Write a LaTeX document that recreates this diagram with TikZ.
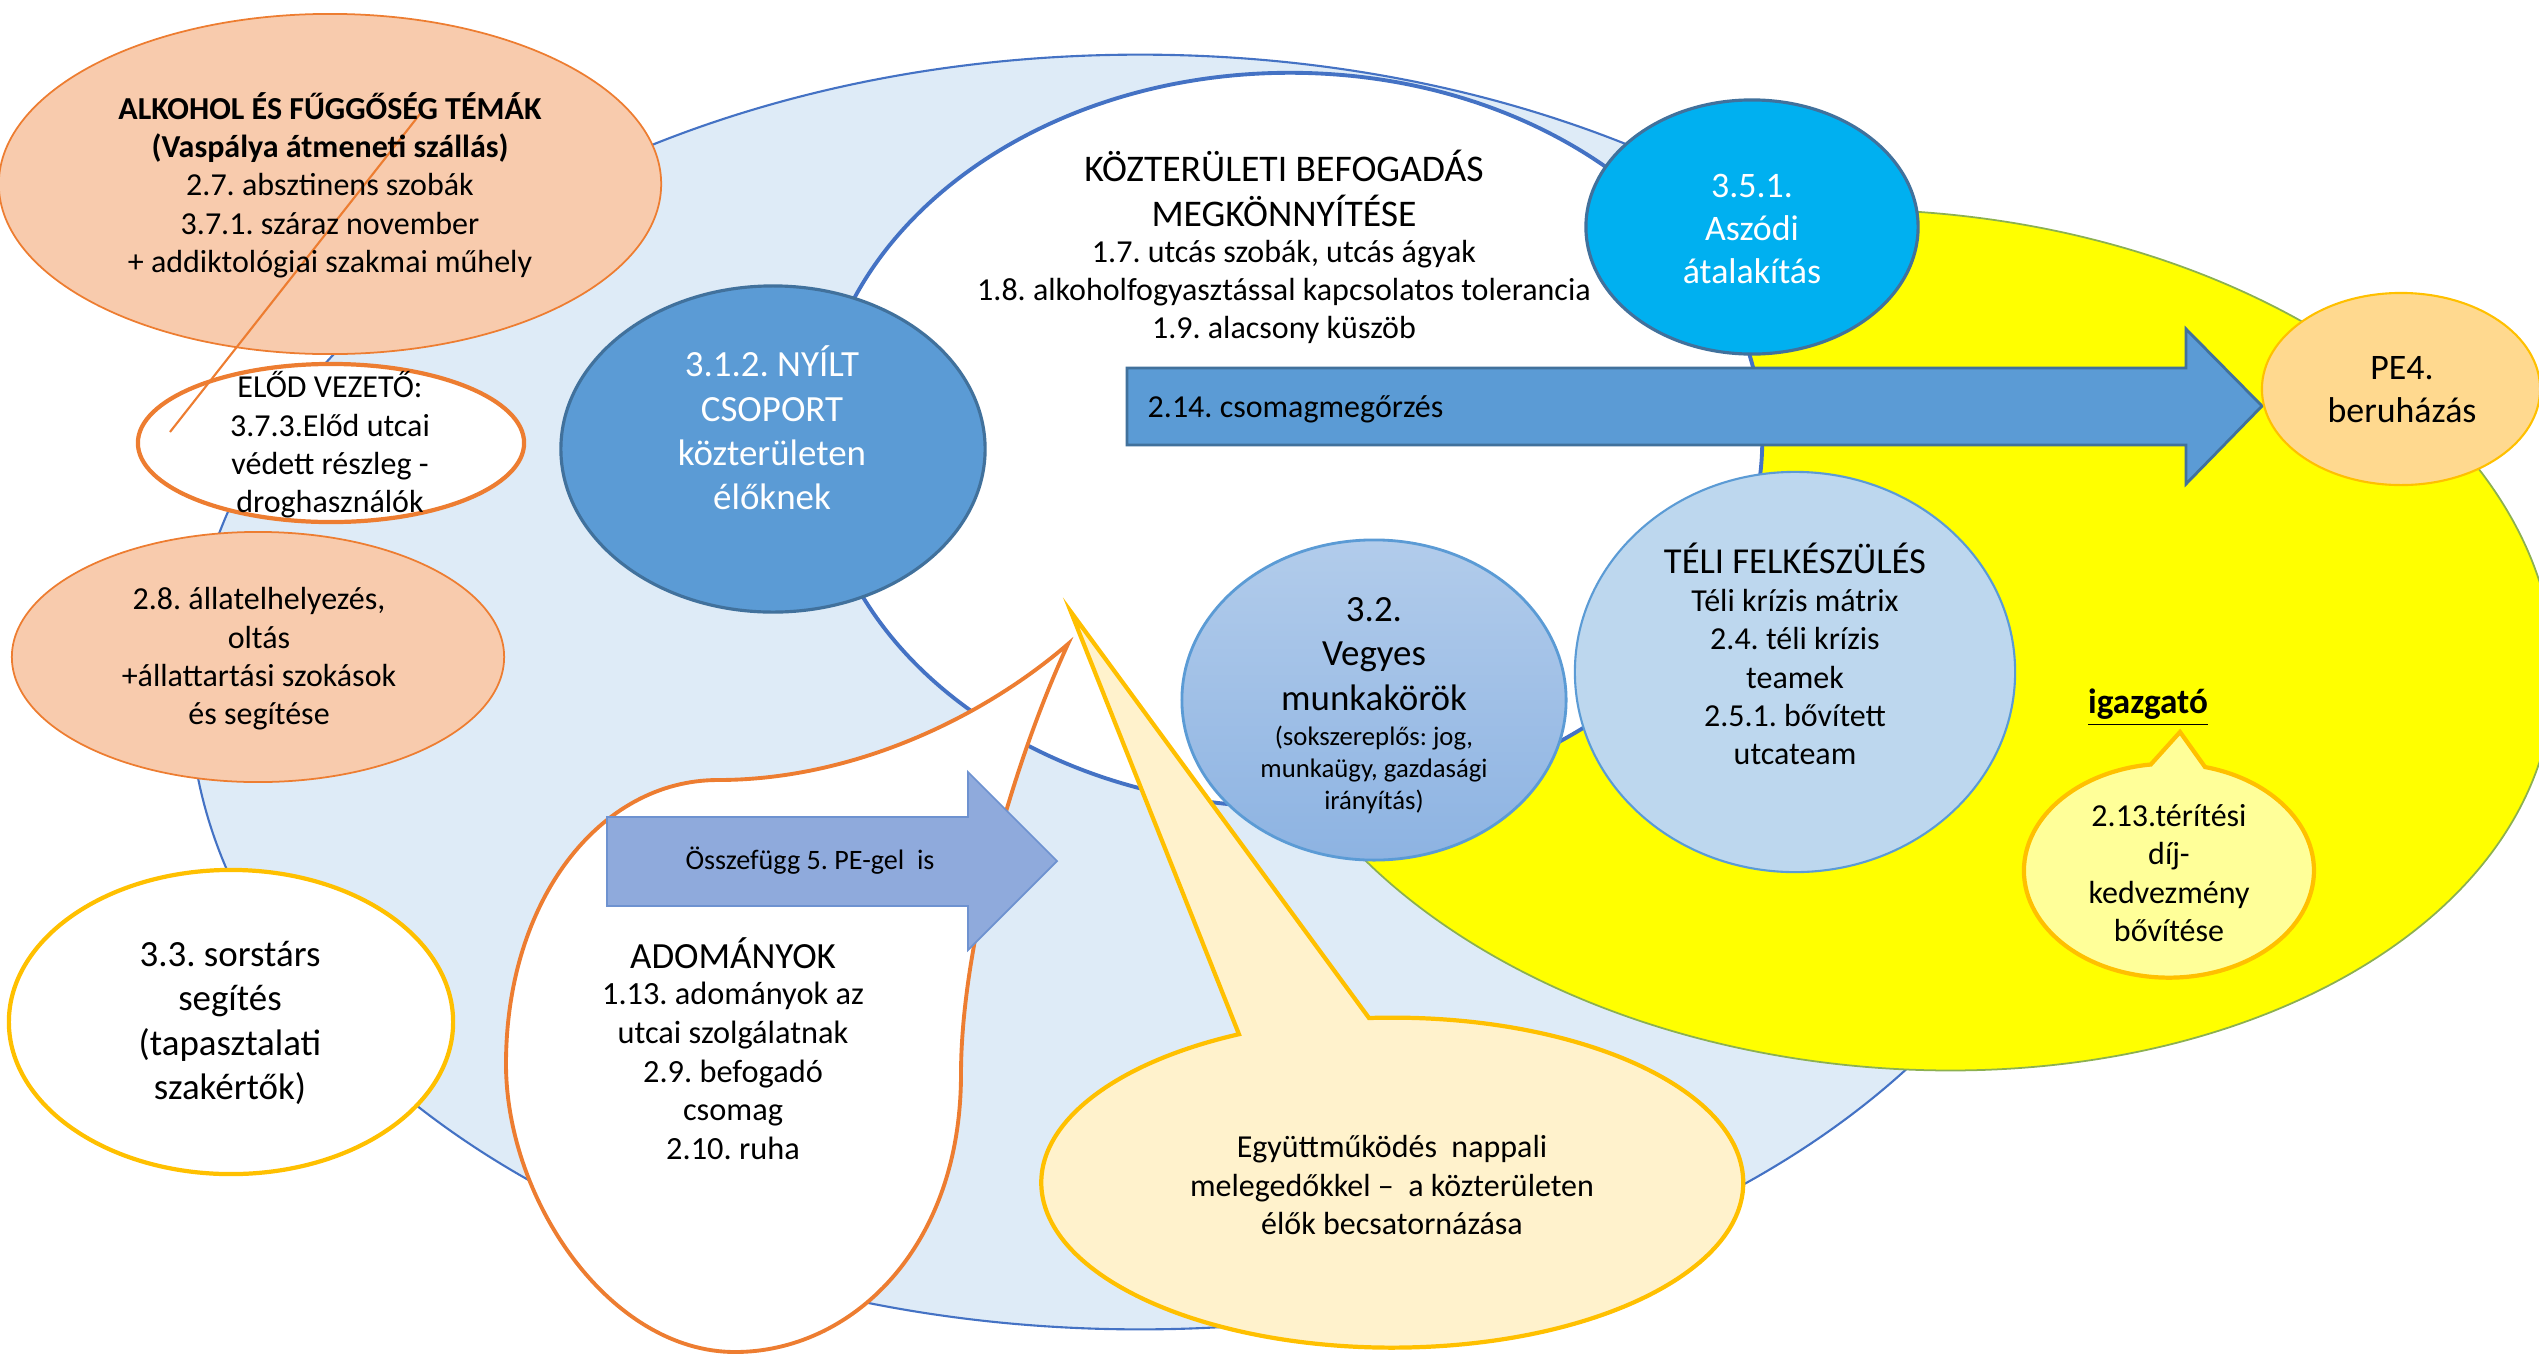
\documentclass[tikz,border=0pt]{standalone}
\usepackage{fontspec}
\setmainfont{Carlito}
\usetikzlibrary{shapes.geometric}
\frenchspacing
\definecolor{lblue}{HTML}{DEEBF7}
\definecolor{bline}{HTML}{4472C4}
\definecolor{mblue}{HTML}{5B9BD5}
\definecolor{dblue}{HTML}{41719C}
\definecolor{cyanb}{HTML}{00B0F0}
\definecolor{yel}{HTML}{FFFF00}
\definecolor{ygreen}{HTML}{8CB050}
\definecolor{peach}{HTML}{F8CBAD}
\definecolor{orng}{HTML}{ED7D31}
\definecolor{gold}{HTML}{FFC000}
\definecolor{pale}{HTML}{BDD7EE}
\definecolor{lyel}{HTML}{FFFF99}
\definecolor{cream}{HTML}{FFF2CC}
\definecolor{peo}{HTML}{FFD98F}
\definecolor{arrb}{HTML}{8FAADC}
\definecolor{arrbd}{HTML}{6E92D0}
\definecolor{vtop}{HTML}{B2CCEB}
\definecolor{vbot}{HTML}{8DB3E2}
\begin{document}
\frenchspacing
\begin{tikzpicture}[x=0.01cm, y=-0.01cm,
  oval/.style={ellipse, inner sep=0pt, outer sep=0pt},
  txt/.style={align=center, inner sep=0pt, text=black},
  wtxt/.style={align=center, inner sep=0pt, text=white},
  fs9/.style={font=\fontsize{9.1}{10.9}\selectfont},
  fs10/.style={font=\fontsize{10.5}{12.6}\selectfont},
  peachoval/.style={oval, fill=peach, draw=orng, line width=0.5pt},
  paleoval/.style={oval, draw=mblue, line width=0.6pt}
]
\useasboundingbox (0,0) rectangle (2539,1354);

% background layers
\node[oval, minimum width=19cm, minimum height=12.74cm, fill=lblue, draw=bline, line width=0.6pt] (big) at (1140,692) {};
\node[oval, rotate=-5, minimum width=13.1cm, minimum height=8.56cm, fill=yel, draw=ygreen, line width=0.5pt] (yellow) at (1900,640) {};
\node[oval, minimum width=9.44cm, minimum height=7.34cm, fill=white, draw=bline, line width=1.1pt] (white) at (1290,440) {};

% left side ovals
\node[peachoval, minimum width=6.62cm, minimum height=3.4cm] (alk) at (330,184) {};
\node[oval, minimum width=3.86cm, minimum height=1.58cm, fill=white, draw=orng, line width=1.2pt] (elod) at (331,443) {};
\node[peachoval, minimum width=4.92cm, minimum height=2.5cm] (allat) at (258,657) {};
\node[oval, minimum width=4.44cm, minimum height=3.04cm, fill=white, draw=gold, line width=1.2pt] (sors) at (231,1022) {};

% blue circles
\node[oval, minimum width=4.24cm, minimum height=3.26cm, fill=mblue, draw=dblue, line width=0.9pt] (nyilt) at (773,449) {};
\node[oval, minimum width=3.32cm, minimum height=2.54cm, fill=cyanb, draw=dblue, line width=0.9pt] (aszod) at (1752,227) {};

% big arrow 2.14
\draw[fill=mblue, draw=dblue, line width=0.8pt] (1127,368) -- (2186,368) -- (2186,329) -- (2262,406) -- (2186,484) -- (2186,445) -- (1127,445) -- cycle;
\coordinate (arrtip) at (2262,406);

\node[oval, minimum width=2.78cm, minimum height=1.92cm, fill=peo, draw=gold, line width=0.6pt] (pe4) at (2401,389) {};

\node[paleoval, minimum width=3.84cm, minimum height=3.2cm, top color=vtop, bottom color=vbot, draw=mblue, line width=0.8pt] (vegyes) at (1374,700) {};
\node[paleoval, minimum width=4.4cm, minimum height=4.0cm, fill=pale] (teli) at (1795,672) {};

% 2.13 callout
\coordinate (cTip) at (2180,732);
\draw[fill=lyel, draw=gold, line width=1.2pt] (cTip) -- (2205,767) arc[start angle=-75.6, end angle=262.8, x radius=145, y radius=107] -- cycle;

% ADOMANYOK bubble
\coordinate (aTip) at (1068,644);
\draw[fill=white, draw=orng, line width=1.1pt] (aTip)
  .. controls (1010,770) and (961,950) .. (961,1074)
  .. controls (961,1250) and (850,1352) .. (735,1352)
  .. controls (610,1352) and (506,1200) .. (506,1064)
  .. controls (506,900) and (600,780) .. (718,780)
  .. controls (850,780) and (980,720) .. (aTip) -- cycle;

% Osszefugg arrow
\draw[fill=arrb, draw=arrbd, line width=0.5pt] (607,817) -- (968,817) -- (968,772) -- (1057,861) -- (968,950) -- (968,906) -- (607,906) -- cycle;

% Egyuttmukodes callout
\coordinate (eTip) at (1071,612);
\draw[fill=cream, draw=gold, line width=1.2pt] (eTip) -- (1369,1018) arc[start angle=-93.8, end angle=244.1, x radius=351, y radius=165] -- cycle;

% stray connector line
\coordinate (lnA) at (420,114);
\coordinate (lnB) at (170,432);
\draw[orng, line width=0.6pt] (lnA) -- (lnB);

% texts
\node[txt, fs9] (alkt) at (330,185) {\textbf{ALKOHOL ÉS FŰGGŐSÉG TÉMÁK}\\\textbf{(Vaspálya átmeneti szállás)}\\2.7. absztinens szobák\\3.7.1. száraz november\\+ addiktológiai szakmai műhely};
\node[txt, fs9] (elodt) at (330,445) {ELŐD VEZETŐ:\\3.7.3.Előd utcai\\védett részleg -\\droghasználók};
\node[txt, fs9] (allatt) at (259,659) {2.8. állatelhelyezés,\\oltás\\+állattartási szokások\\és segítése};
\node[txt, fs10] (sorst) at (230,1023) {3.3. sorstárs\\segítés\\(tapasztalati\\szakértők)};

\node[txt, font=\fontsize{10.7}{12.8}\selectfont] (kozh) at (1284,188) {KÖZTERÜLETI BEFOGADÁS\\MEGKÖNNYÍTÉSE};
\node[txt, fs9] (kozi) at (1284,292) {1.7. utcás szobák, utcás ágyak\\1.8. alkoholfogyasztással kapcsolatos tolerancia\\1.9. alacsony küszöb};

\node[wtxt, fs10] (nyiltt) at (772,428) {3.1.2. NYÍLT\\CSOPORT\\közterületen\\élőknek};
\node[wtxt, font=\fontsize{10.2}{12.1}\selectfont] (aszodt) at (1752,229) {3.5.1.\\Aszódi\\átalakítás};
\node[txt, fs9, anchor=west] (csomt) at (1147,409) {2.14. csomagmegőrzés};
\node[txt, font=\fontsize{10.2}{12.2}\selectfont] (pe4t) at (2402,390) {PE4.\\beruházás};

\node[txt, fs10] (vegyh) at (1374,654) {3.2.\\Vegyes\\munkakörök};
\node[txt, font=\fontsize{7.6}{9.1}\selectfont] (vegyi) at (1374,770) {(sokszereplős: jog,\\munkaügy, gazdasági\\irányítás)};

\node[txt, font=\fontsize{10.4}{12.5}\selectfont] (telih) at (1795,558) {TÉLI FELKÉSZÜLÉS};
\node[txt, fs9] (telii) at (1795,677) {Téli krízis mátrix\\2.4. téli krízis\\teamek\\2.5.1. bővített\\utcateam};

\node[txt, font=\fontsize{10}{11.5}\selectfont] (igaz) at (2148,708) {\underline{\textbf{igazgató}}};
\node[txt, fs9] (teritt) at (2169,873) {2.13.térítési\\díj-\\kedvezmény\\bővítése};

\node[txt, font=\fontsize{10.5}{12.5}\selectfont] (adomh) at (733,953) {ADOMÁNYOK};
\node[txt, font=\fontsize{9.2}{11}\selectfont] (adomi) at (733,1071) {1.13. adományok az\\utcai szolgálatnak\\2.9. befogadó\\csomag\\2.10. ruha};
\node[txt, font=\fontsize{8}{9.6}\selectfont] (osszt) at (810,861) {Összefügg 5. PE-gel\ \ is};
\node[txt, fs9] (egyt) at (1392,1185) {Együttműködés\ \ nappali\\melegedőkkel –\ \ a közterületen\\élők becsatornázása};
\end{tikzpicture}
\end{document}
